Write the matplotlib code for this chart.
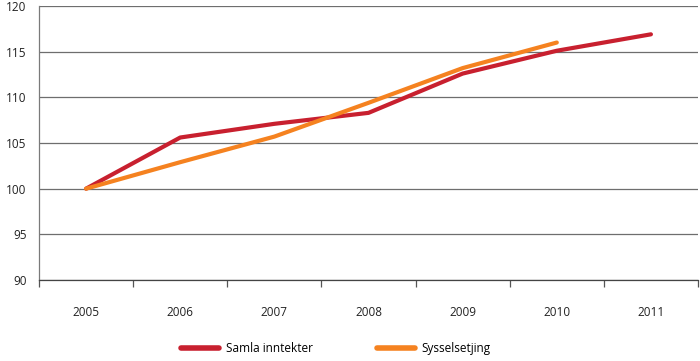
import numpy as np
import matplotlib.pyplot as plt
from matplotlib.lines import Line2D

years = ["2005", "2006", "2007", "2008", "2009", "2010", "2011"]
samla_inntekter = [100, 105.6, 107.1, 108.3, 112.6, 115.1, 116.9]
sysselsetjing = [100, 102.9, 105.7, 109.4, 113.2, 116.0]

plt.rcParams['font.family'] = ['Open Sans', 'DejaVu Sans']

fig = plt.figure(figsize=(7, 3.61), dpi=100)
ax = fig.add_axes([39 / 700, 1 - 280 / 361, 659 / 700, 274 / 361])

x = np.arange(len(years))
red = "#c8202f"
orange = "#f58220"
ax.plot(x, samla_inntekter, color=red, lw=3, solid_capstyle="round", zorder=3)
ax.plot(x[:len(sysselsetjing)], sysselsetjing, color=orange, lw=3,
        solid_capstyle="round", zorder=4)

ax.set_xlim(-0.5, len(years) - 0.5)
ax.set_ylim(90, 120)
ax.set_yticks(range(90, 121, 5))
ax.yaxis.grid(True, color="#6e6e6e", lw=0.9)
ax.set_axisbelow(True)
ax.tick_params(axis="y", length=0, labelsize=8.5, colors="#222222", pad=9)

ax.set_xticks(x)
ax.set_xticklabels(years)
ax.set_xticks(np.arange(-0.5, len(years)), minor=True)
ax.tick_params(axis="x", which="major", length=0, labelsize=8.5, pad=19, colors="#222222")
ax.tick_params(axis="x", which="minor", length=5, width=0.9, color="#555555")

for side in ["top", "right"]:
    ax.spines[side].set_visible(False)
ax.spines["left"].set_color("#7a7a7a")
ax.spines["bottom"].set_color("#444444")
ax.spines["left"].set_linewidth(0.9)
ax.spines["bottom"].set_linewidth(0.9)

handles = [Line2D([], [], color=red, lw=4, solid_capstyle="round"),
           Line2D([], [], color=orange, lw=4, solid_capstyle="round")]
fig.legend(handles, ["Samla inntekter", "Sysselsetjing"], loc="lower center",
           bbox_to_anchor=(0.48, -0.012), ncol=2, frameon=False, fontsize=8.5,
           handlelength=3.2, columnspacing=5.4, handletextpad=0.6)

fig.savefig("out.png", dpi=100)
